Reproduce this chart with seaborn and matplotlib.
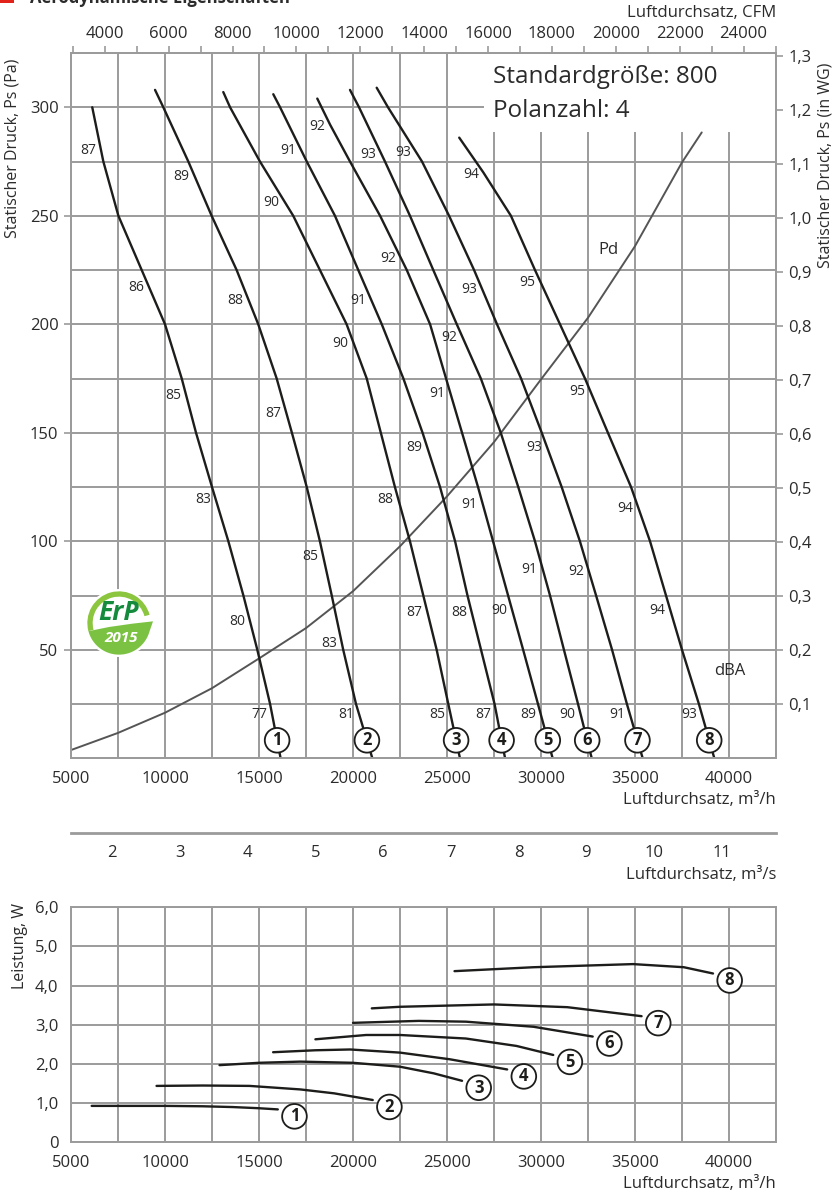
import numpy as np
import matplotlib.pyplot as plt
import seaborn as sns
from matplotlib.patches import Rectangle, Circle, Wedge, Polygon
from matplotlib.ticker import MultipleLocator, FixedLocator, FuncFormatter

# 1. Kennlinien: Luftdurchsatz (m3/h) und statischer Druck (Pa)
k1_q = [6130, 6720, 7520, 8760, 10000, 10890, 11650, 12500, 13370, 14170, 14910, 15590, 16150]
k1_p = [300, 275, 250, 225, 200, 175, 150, 125, 100, 75, 50, 25, 0]
k2_q = [9470, 9910, 11240, 12480, 13810, 14960, 15940, 16750, 17540, 18240, 18870, 19480, 20160, 21030]
k2_p = [308, 300, 275, 250, 225, 200, 175, 150, 125, 100, 75, 50, 25, 0]
k3_q = [13100, 13460, 15050, 16820, 18240, 19660, 20730, 21480, 22230, 23030, 23740, 24450, 25070, 25690]
k3_p = [307, 300, 275, 250, 225, 200, 175, 150, 125, 100, 75, 50, 25, 0]
k4_q = [15760, 16120, 17540, 19040, 20280, 21530, 22680, 23700, 24630, 25430, 26090, 26810, 27530, 28090]
k4_p = [306, 300, 275, 250, 225, 200, 175, 150, 125, 100, 75, 50, 25, 0]
k5_q = [18100, 18780, 19840, 21440, 22860, 24100, 24950, 25800, 26650, 27450, 28250, 29050, 29840, 30620]
k5_p = [304, 292, 275, 250, 225, 200, 175, 150, 125, 100, 75, 50, 25, 0]
k6_q = [19840, 20320, 21700, 23030, 24270, 25520, 26800, 27860, 28790, 29680, 30480, 31220, 31970, 32700]
k6_p = [308, 300, 275, 250, 225, 200, 175, 150, 125, 100, 75, 50, 25, 0]
k7_q = [21260, 21860, 23670, 25110, 26440, 27660, 28940, 30040, 31100, 32070, 32930, 33780, 34570, 35410]
k7_p = [309, 300, 275, 250, 225, 200, 175, 150, 125, 100, 75, 50, 25, 0]
k8_q = [25650, 26930, 28400, 29680, 31010, 32340, 33560, 34790, 35800, 36650, 37500, 38400, 39220]
k8_p = [286, 270, 250, 225, 200, 175, 150, 125, 100, 75, 50, 25, 0]

# Schallpegel an den Kennlinien (Druck, dBA)
dba_1 = [(281, "87"), (218, "86"), (168, "85"), (120, "83"), (64, "80"), (21, "77")]
dba_2 = [(269, "89"), (212, "88"), (160, "87"), (94, "85"), (54, "83"), (21, "81")]
dba_3 = [(257, "90"), (192, "90"), (120, "88"), (68, "87"), (21, "85")]
dba_4 = [(281, "91"), (212, "91"), (144, "89"), (68, "88"), (21, "87")]
dba_5 = [(292, "92"), (231, "92"), (169, "91"), (118, "91"), (69, "90"), (21, "89")]
dba_6 = [(279, "93"), (195, "92"), (88, "91"), (21, "90")]
dba_7 = [(280, "93"), (217, "93"), (144, "93"), (87, "92"), (21, "91")]
dba_8 = [(270, "94"), (220, "95"), (170, "95"), (116, "94"), (69, "94"), (21, "93")]

# dynamischer Druck Pd
pd_q = [5000, 7500, 10000, 12500, 15000, 17500, 20000, 22500, 25000, 27500, 30000, 32500, 35000, 37500, 38550]
pd_p = [3.8, 11.7, 21, 32.3, 46, 60, 77, 97.7, 120.7, 145.7, 174.6, 203, 236, 274.6, 288.4]

# Leistung (W) über Luftdurchsatz
l1_q = [6100, 10000, 12000, 13600, 15000, 16000]
l1_w = [0.93, 0.93, 0.92, 0.90, 0.87, 0.84]
l2_q = [9550, 12000, 14500, 17200, 19000, 21050]
l2_w = [1.44, 1.45, 1.44, 1.35, 1.25, 1.08]
l3_q = [12900, 15000, 17200, 20000, 22500, 24300, 25800]
l3_w = [1.97, 2.03, 2.06, 2.03, 1.93, 1.76, 1.57]
l4_q = [15750, 18000, 19850, 22500, 25150, 28200]
l4_w = [2.30, 2.35, 2.37, 2.29, 2.12, 1.86]
l5_q = [18000, 20700, 22500, 26000, 28700, 30650]
l5_w = [2.63, 2.74, 2.74, 2.65, 2.46, 2.23]
l6_q = [20000, 23500, 26000, 29600, 32750]
l6_w = [3.05, 3.10, 3.08, 2.95, 2.70]
l7_q = [21000, 22500, 27500, 31400, 35350]
l7_w = [3.42, 3.46, 3.52, 3.45, 3.22]
l8_q = [25400, 29600, 34900, 37600, 39150]
l8_w = [4.37, 4.47, 4.55, 4.47, 4.31]

wg_ticks = [0.1, 0.2, 0.3, 0.4, 0.5, 0.6, 0.7, 0.8, 0.9, 1.0, 1.1, 1.2, 1.3]

kennlinien = [(k1_q, k1_p), (k2_q, k2_p), (k3_q, k3_p), (k4_q, k4_p),
              (k5_q, k5_p), (k6_q, k6_p), (k7_q, k7_p), (k8_q, k8_p)]
dba = [dba_1, dba_2, dba_3, dba_4, dba_5, dba_6, dba_7, dba_8]
leistung = [(l1_q, l1_w), (l2_q, l2_w), (l3_q, l3_w), (l4_q, l4_w),
            (l5_q, l5_w), (l6_q, l6_w), (l7_q, l7_w), (l8_q, l8_w)]

GRID = "#9b9b9b"
INK = "#1d1d1b"
TXT = "#2b2b2b"
PA_PER_INWG = 249.09

sns.set_theme(style="white")
plt.rcParams["font.family"] = ["Open Sans", "DejaVu Sans"]

fig = plt.figure(figsize=(8.36, 11.98), dpi=100)


def style_axes(a):
    for s in a.spines.values():
        s.set_color(GRID)
        s.set_linewidth(1.4)
    a.tick_params(which="both", direction="out", color=GRID, width=1.2, length=5,
                  labelsize=12, labelcolor=TXT, pad=4)
    a.grid(which="both", color=GRID, lw=1.4)
    a.set_axisbelow(True)


def ganze_zahl(v, _):
    return f"{v:.0f}"


def komma(v, _):
    return "0" if v == 0 else f"{v:.1f}".replace(".", ",")


# 2. Oberes Diagramm: Druck
ax = fig.add_axes([0.08493, 0.36703, 0.84330, 0.58873])
for q, p in kennlinien:
    sns.lineplot(x=q, y=p, sort=False, estimator=None, color=INK, lw=1.7, ax=ax, zorder=3)
sns.lineplot(x=pd_q, y=pd_p, sort=False, estimator=None, color="#555555", lw=1.4, ax=ax, zorder=2)
ax.set(xlabel="", ylabel="", xlim=(5000, 42500), ylim=(0, 325))
style_axes(ax)
ax.xaxis.set_major_locator(MultipleLocator(5000))
ax.xaxis.set_minor_locator(MultipleLocator(2500))
ax.xaxis.set_major_formatter(FuncFormatter(ganze_zahl))
ax.yaxis.set_major_locator(FixedLocator([50, 100, 150, 200, 250, 300]))
ax.yaxis.set_minor_locator(MultipleLocator(25))
ax.yaxis.set_major_formatter(FuncFormatter(ganze_zahl))
ax.tick_params(axis="y", which="minor", length=0)

# dBA Beschriftungen und Nummern
for (q, p), labels in zip(kennlinien, dba):
    for lp, txt in labels:
        lx = np.interp(lp, p[::-1], q[::-1])
        ax.annotate(txt, (lx, lp), xytext=(-9, 0), textcoords="offset points",
                    ha="center", va="center_baseline", fontsize=10, color=TXT, zorder=4)
for i, (q, p) in enumerate(kennlinien, start=1):
    cx = np.interp(8.3, p[::-1], q[::-1])
    ax.annotate(str(i), (cx, 8.3), ha="center", va="center", fontsize=12, fontweight="bold",
                color=INK, zorder=5,
                bbox=dict(boxstyle="circle,pad=0.2", fc="white", ec=INK, lw=1.3))

ax.text(33580, 234, "Pd", ha="center", va="center", fontsize=12, color=TXT)
ax.text(40050, 40, "dBA", ha="center", va="center", fontsize=12, color=TXT)

# weißes Feld mit Baugröße
ax.add_patch(Rectangle((26970, 288.7), 42500 - 26970, 325 - 288.7, fc="white", ec="none", zorder=1))
ax.text(27450, 311.4, "Standardgröße: 800", fontsize=17.5, va="baseline", color=TXT, zorder=4)
ax.text(27450, 295.7, "Polanzahl: 4", fontsize=17.5, va="baseline", color=TXT, zorder=4)

# rechte Achse in WG
axr = ax.twinx()
axr.set_ylim(0, 325)
axr.set_yticks([v * PA_PER_INWG for v in wg_ticks])
axr.set_yticklabels([komma(v, None) for v in wg_ticks])
style_axes(axr)
axr.grid(False)

# obere Achse CFM
sec = ax.secondary_xaxis("top", functions=(lambda x: x / 1.699, lambda c: c * 1.699))
sec.xaxis.set_major_locator(MultipleLocator(2000))
sec.xaxis.set_minor_locator(MultipleLocator(1000))
sec.xaxis.set_major_formatter(FuncFormatter(ganze_zahl))
sec.tick_params(which="both", direction="out", color=GRID, width=1.2, length=5,
                labelsize=12, labelcolor=TXT, pad=3)
sec.spines["top"].set_color(GRID)
sec.spines["top"].set_linewidth(1.4)

ax.text(1, -0.059, "Luftdurchsatz, m³/h", transform=ax.transAxes, ha="right", va="center",
        fontsize=12, color=TXT)
fig.text(776 / 836, 1 - 13 / 1198, "Luftdurchsatz, CFM", ha="right", va="center", fontsize=12, color=TXT)
fig.text(13 / 836, 1 - 148 / 1198, "Statischer Druck, Ps (Pa)", rotation=90, ha="center", va="center",
         fontsize=11.5, color=TXT)
fig.text(826 / 836, 1 - 165 / 1198, "Statischer Druck, Ps (in WG)", rotation=90, ha="center",
         va="center", fontsize=11.5, color=TXT)

# 3. Achse m3/s
axs = fig.add_axes([0.08493, 0.30467, 0.84330, 0.0001])
axs.set_xlim(5000 / 3600, 42500 / 3600)
axs.set_yticks([])
for side in ["left", "right", "top"]:
    axs.spines[side].set_visible(False)
axs.spines["bottom"].set_color(GRID)
axs.spines["bottom"].set_linewidth(2)
axs.patch.set_visible(False)
axs.xaxis.set_major_locator(MultipleLocator(1))
axs.xaxis.set_minor_locator(MultipleLocator(0.5))
axs.xaxis.set_major_formatter(FuncFormatter(ganze_zahl))
axs.tick_params(which="both", direction="out", color=GRID, width=1.2, length=6,
                labelsize=12, labelcolor=TXT, pad=2.5)
fig.text(776 / 836, 1 - 875 / 1198, "Luftdurchsatz, m³/s", ha="right", va="center", fontsize=12, color=TXT)

# 4. Unteres Diagramm: Leistung
ax2 = fig.add_axes([0.08493, 0.04649, 0.84330, 0.19616])
for i, (q, w) in enumerate(leistung, start=1):
    sns.lineplot(x=q, y=w, sort=False, estimator=None, color=INK, lw=1.7, ax=ax2, zorder=3)
    ax2.annotate(str(i), (q[-1], w[-1]), xytext=(12, -5), textcoords="offset points",
                 ha="center", va="center", fontsize=12, fontweight="bold", color=INK, zorder=5,
                 bbox=dict(boxstyle="circle,pad=0.2", fc="white", ec=INK, lw=1.3))
ax2.set(xlabel="", ylabel="", xlim=(5000, 42500), ylim=(0, 6))
style_axes(ax2)
ax2.xaxis.set_major_locator(MultipleLocator(5000))
ax2.xaxis.set_minor_locator(MultipleLocator(2500))
ax2.xaxis.set_major_formatter(FuncFormatter(ganze_zahl))
ax2.yaxis.set_major_locator(MultipleLocator(1))
ax2.yaxis.set_major_formatter(FuncFormatter(komma))
fig.text(776 / 836, 1 - 1184 / 1198, "Luftdurchsatz, m³/h", ha="right", va="center",
         fontsize=12, color=TXT)
fig.text(20 / 836, 1 - 946 / 1198, "Leistung, W", rotation=90, ha="center", va="center",
         fontsize=11.5, color=TXT)

# 5. ErP Logo
axl = fig.add_axes([84 / 836, 1 - 658 / 1198, 70 / 836, 70 / 1198])
axl.set_xlim(-1.05, 1.05)
axl.set_ylim(-1.05, 1.05)
axl.axis("off")
axl.add_patch(Circle((0, 0), 1.02, fc="white", ec="none"))
axl.add_patch(Wedge((0, 0), 0.95, 15, 195, width=0.16, fc="#8cc63f", ec="none"))
winkel = np.linspace(np.radians(195), np.radians(345), 30)
unten = np.column_stack([0.95 * np.cos(winkel), 0.95 * np.sin(winkel)])
blatt = np.vstack([unten, [[1.02, 0.05], [0.4, -0.02], [-0.3, -0.12]]])
axl.add_patch(Polygon(blatt, closed=True, fc="#7cc242", ec="none"))
axl.text(0.0, 0.33, "ErP", ha="center", va="center", fontsize=19, fontweight="bold",
         style="italic", color="#138a3c")
axl.text(0.05, -0.45, "2015", ha="center", va="center", fontsize=11, fontweight="bold",
         style="italic", color="white")

# 6. Überschrift (oben abgeschnitten)
fig.patches.append(Rectangle((0, 1 - 3 / 1198), 14 / 836, 6 / 1198, transform=fig.transFigure,
                             fc="#e2231a", ec="none"))
fig.text(30 / 836, 1 - 3 / 1198, "Aerodynamische Eigenschaften", fontsize=12, fontweight="bold",
         va="baseline", color=TXT)

fig.savefig("out.png", dpi=100)
